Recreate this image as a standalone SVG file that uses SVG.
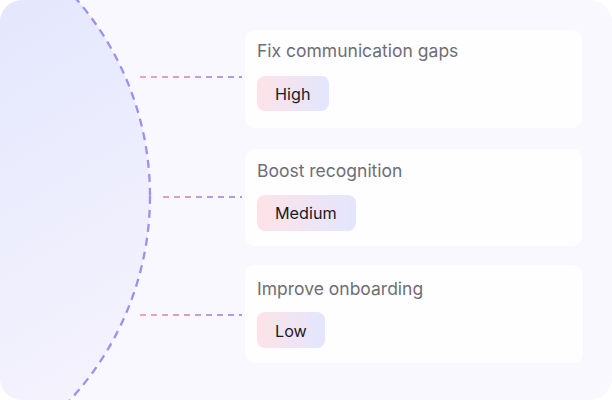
<svg xmlns="http://www.w3.org/2000/svg" width="612" height="400" viewBox="0 0 612 400">
<style>
.card{fill:#fefdff}
.title{font-family:Inter,"Noto Sans",sans-serif;font-size:17.5px;fill:#6e6e76}
.pilltext{font-family:Inter,"Noto Sans",sans-serif;font-size:16.2px;fill:#1b1a26}
.conn{fill:none;stroke:url(#lg);stroke-width:2;stroke-dasharray:6 5}
</style>
<defs>
<clipPath id="bgclip"><rect x="0" y="0" width="612" height="400" rx="22"/></clipPath>
<linearGradient id="circ" x1="0" y1="0" x2="0.6" y2="1">
<stop offset="0" stop-color="#e9e6fa"/>
<stop offset="0.5" stop-color="#e5e8fd"/>
<stop offset="1" stop-color="#f4f2fd"/>
</linearGradient>
<linearGradient id="pill" x1="0" y1="0" x2="1" y2="0">
<stop offset="0" stop-color="#fde3e7"/>
<stop offset="1" stop-color="#e3e6fe"/>
</linearGradient>
<linearGradient id="lg" gradientUnits="userSpaceOnUse" x1="140" y1="0" x2="242" y2="0">
<stop offset="0" stop-color="#f6a3b2"/>
<stop offset="1" stop-color="#a597f3"/>
</linearGradient>
</defs>
<rect x="0" y="0" width="612" height="400" fill="#ffffff"/>
<g clip-path="url(#bgclip)">
<rect x="0" y="0" width="612" height="400" fill="#f8f8fe"/>
<g id="circle">
<circle cx="-150" cy="196" r="300" fill="url(#circ)" stroke="#9d90f4" stroke-width="2.3" stroke-dasharray="8 6"/>
</g>
</g>
<g id="connectors">
<line class="conn" x1="140" y1="77" x2="242" y2="77"/>
<line class="conn" x1="163" y1="197" x2="242" y2="197"/>
<line class="conn" x1="140" y1="315" x2="242" y2="315"/>
</g>
<g id="card1">
<rect class="card" x="245" y="30" width="337" height="98" rx="10"/>
<text class="title" x="257" y="57">Fix communication gaps</text>
<rect x="257" y="76" width="72" height="35" rx="8" fill="url(#pill)"/>
<text class="pilltext" x="275" y="100">High</text>
</g>
<g id="card2">
<rect class="card" x="245" y="149" width="337" height="97" rx="10"/>
<text class="title" x="257" y="177">Boost recognition</text>
<rect x="257" y="195" width="99" height="36" rx="8" fill="url(#pill)"/>
<text class="pilltext" x="275" y="219">Medium</text>
</g>
<g id="card3">
<rect class="card" x="245" y="265" width="338" height="98" rx="10"/>
<text class="title" x="257" y="295">Improve onboarding</text>
<rect x="257" y="312" width="68" height="36" rx="8" fill="url(#pill)"/>
<text class="pilltext" x="275" y="337">Low</text>
</g>
</svg>
